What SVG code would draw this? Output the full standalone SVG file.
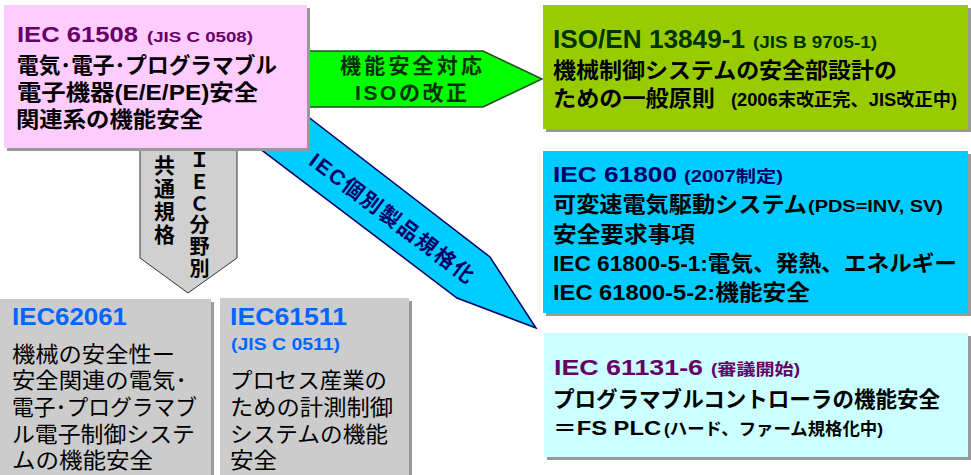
<svg xmlns="http://www.w3.org/2000/svg" width="971" height="475" viewBox="0 0 971 475">
<style>
.t{font-family:'Liberation Sans','Noto Sans CJK JP',sans-serif;font-weight:bold}
.r{font-family:'Liberation Sans','Noto Sans CJK JP',sans-serif;font-weight:normal}
.sh{fill:#999999}
.k{fill:#000000}
</style>
<rect width="971" height="475" fill="#ffffff"/>
<g id="connectors">
  <g id="arrow-iso">
    <polygon points="306,51 483,51 542,79 483,107 306,107" fill="#00ff00" stroke="#1f4f1f" stroke-width="1.5"/>
    <text class="t" x="340" y="73" font-size="21" fill="#003300" textLength="142">機能安全対応</text>
    <text class="t" x="355" y="100" font-size="21" fill="#003300" textLength="112">ISOの改正</text>
  </g>
  <g id="arrow-iec-product">
    <polygon points="250,72 490,257 536,328 457,298 210,111" fill="#00ccff" stroke="#000066" stroke-width="1.5"/>
    <text class="t" transform="translate(392,218) rotate(37)" x="-100" y="7.5" font-size="21" fill="#000066" textLength="200">IEC個別製品規格化</text>
  </g>
  <g id="arrow-common">
    <polygon points="140,140 237,140 237,258 188,293 140,258" fill="#d0d0d0" stroke="#333333" stroke-width="1"/>
    <text class="t k" x="163" y="155" font-size="21" writing-mode="vertical-rl" letter-spacing="2">共通規格</text>
    <text class="t k" x="198" y="150" font-size="20" writing-mode="vertical-rl" letter-spacing="1.6">ＩＥＣ分野別</text>
  </g>
</g>
<g id="node-iec61508">
  <rect class="sh" x="7" y="8" width="303" height="143"/>
  <rect x="4" y="5" width="303" height="143" fill="#ffccff"/>
  <text class="t" x="17" y="42" font-size="22" fill="#660066" textLength="121" lengthAdjust="spacingAndGlyphs">IEC 61508</text>
  <text class="t" x="147" y="42" font-size="15" fill="#660066" textLength="106" lengthAdjust="spacingAndGlyphs">(JIS C 0508)</text>
  <text class="t k" x="17" y="73" font-size="22" textLength="260" lengthAdjust="spacingAndGlyphs">電気･電子･プログラマブル</text>
  <text class="t k" x="17" y="100" font-size="22" textLength="241" lengthAdjust="spacingAndGlyphs">電子機器(E/E/PE)安全</text>
  <text class="t k" x="16" y="127" font-size="22" textLength="187" lengthAdjust="spacingAndGlyphs">関連系の機能安全</text>
</g>
<g id="node-iso13849">
  <rect class="sh" x="546" y="8" width="425" height="124"/>
  <rect x="543" y="5" width="425" height="124" fill="#99cc00"/>
  <text class="t" x="553" y="48" font-size="26" fill="#003300" textLength="192" lengthAdjust="spacingAndGlyphs">ISO/EN 13849-1</text>
  <text class="t" x="753" y="48" font-size="16" fill="#003300" textLength="124" lengthAdjust="spacingAndGlyphs">(JIS B 9705-1)</text>
  <text class="t k" x="553" y="78" font-size="22" textLength="344" lengthAdjust="spacingAndGlyphs">機械制御システムの安全部設計の</text>
  <text class="t k" x="553" y="106" font-size="22" textLength="162" lengthAdjust="spacingAndGlyphs">ための一般原則</text>
  <text class="t k" x="731" y="106" font-size="18" textLength="226" lengthAdjust="spacingAndGlyphs">(2006末改正完、JIS改正中)</text>
</g>
<g id="node-iec61800">
  <rect class="sh" x="546" y="154" width="425" height="162"/>
  <rect x="543" y="151" width="425" height="162" fill="#00ccff"/>
  <text class="t" x="553" y="182" font-size="22" fill="#000066" textLength="124" lengthAdjust="spacingAndGlyphs">IEC 61800</text>
  <text class="t" x="684" y="182" font-size="16" fill="#000066" textLength="99" lengthAdjust="spacingAndGlyphs">(2007制定)</text>
  <text class="t k" x="553" y="212" font-size="22" textLength="254" lengthAdjust="spacingAndGlyphs">可変速電気駆動システム</text>
  <text class="t k" x="808" y="212" font-size="16" textLength="135" lengthAdjust="spacingAndGlyphs">(PDS=INV, SV)</text>
  <text class="t k" x="553" y="242" font-size="22" textLength="142" lengthAdjust="spacingAndGlyphs">安全要求事項</text>
  <text class="t k" x="553" y="271" font-size="22" textLength="404" lengthAdjust="spacingAndGlyphs">IEC 61800-5-1:電気、発熱、エネルギー</text>
  <text class="t k" x="553" y="300" font-size="22" textLength="257" lengthAdjust="spacingAndGlyphs">IEC 61800-5-2:機能安全</text>
</g>
<g id="node-iec61131">
  <rect class="sh" x="547" y="336" width="424" height="124"/>
  <rect x="544" y="333" width="424" height="124" fill="#ccffff"/>
  <text class="t" x="554" y="375" font-size="22" fill="#660066" textLength="149" lengthAdjust="spacingAndGlyphs">IEC 61131-6</text>
  <text class="t" x="711" y="375" font-size="16" fill="#660066" textLength="89" lengthAdjust="spacingAndGlyphs">(審議開始)</text>
  <text class="t k" x="553" y="407" font-size="22" textLength="387" lengthAdjust="spacingAndGlyphs">プログラマブルコントローラの機能安全</text>
  <text class="t k" x="553" y="435" font-size="21" textLength="108" lengthAdjust="spacingAndGlyphs">＝FS PLC</text>
  <text class="t k" x="664" y="435" font-size="17" textLength="219" lengthAdjust="spacingAndGlyphs">(ハード、ファーム規格化中)</text>
</g>
<g id="node-iec62061">
  <rect class="sh" x="3" y="302" width="211" height="180"/>
  <rect x="0" y="299" width="211" height="180" fill="#cccccc"/>
  <text class="t" x="12" y="325" font-size="24" fill="#0066ff" textLength="115" lengthAdjust="spacingAndGlyphs">IEC62061</text>
  <text class="r k" x="12" y="362" font-size="22" textLength="163" lengthAdjust="spacingAndGlyphs">機械の安全性ー</text>
  <text class="r k" x="12" y="388" font-size="22" textLength="175" lengthAdjust="spacingAndGlyphs">安全関連の電気･</text>
  <text class="r k" x="12" y="415" font-size="22" textLength="185" lengthAdjust="spacingAndGlyphs">電子･プログラマブ</text>
  <text class="r k" x="12" y="442" font-size="22" textLength="183" lengthAdjust="spacingAndGlyphs">ル電子制御システ</text>
  <text class="r k" x="12" y="468" font-size="22" textLength="141" lengthAdjust="spacingAndGlyphs">ムの機能安全</text>
</g>
<g id="node-iec61511">
  <rect class="sh" x="223" y="301" width="189" height="180"/>
  <rect x="220" y="298" width="189" height="180" fill="#cccccc"/>
  <text class="t" x="230" y="325" font-size="24" fill="#0066ff" textLength="117" lengthAdjust="spacingAndGlyphs">IEC61511</text>
  <text class="t" x="231" y="350" font-size="16" fill="#0066ff" textLength="109" lengthAdjust="spacingAndGlyphs">(JIS C 0511)</text>
  <text class="r k" x="230" y="388" font-size="22" textLength="157" lengthAdjust="spacingAndGlyphs">プロセス産業の</text>
  <text class="r k" x="230" y="415" font-size="22" textLength="163" lengthAdjust="spacingAndGlyphs">ための計測制御</text>
  <text class="r k" x="230" y="442" font-size="22" textLength="158" lengthAdjust="spacingAndGlyphs">システムの機能</text>
  <text class="r k" x="230" y="468" font-size="22" textLength="47" lengthAdjust="spacingAndGlyphs">安全</text>
</g>
</svg>
